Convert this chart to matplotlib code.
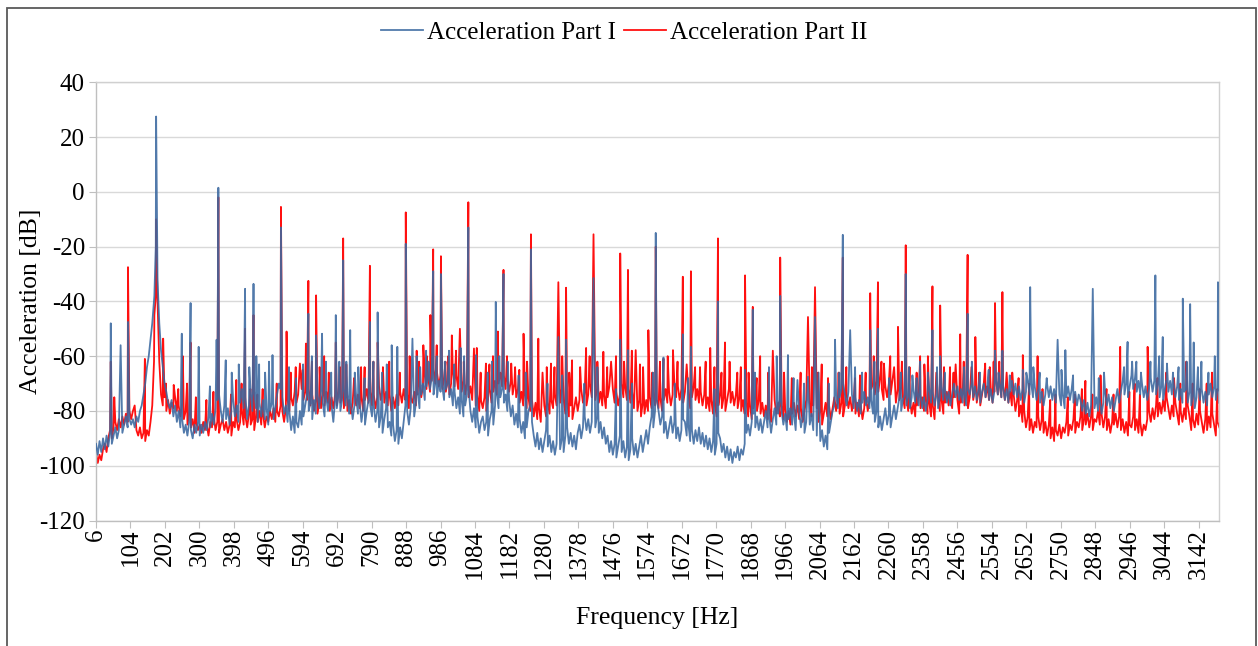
import numpy as np
import matplotlib
matplotlib.use("Agg")
import matplotlib.pyplot as plt
from matplotlib.patches import Rectangle

# ---------------- data ----------------
# background spectrum: one row per 100 Hz band, a value every 5 Hz, row k starts at 6 + 100*k Hz
row_start = 6
row_width = 100
sample_step = 5

blue_base_rows = [
    [-92, -96, -91, -95, -90, -94, -89, -93, -88, -92, -89, -86, -90, -87, -84, -88, -85, -82, -86, -83],
    [-85, -83, -86, -82, -84, -80, -78, -74, -70, -64, -60, -54, -48, -40, -20, -32, -48, -58, -64, -70],
    [-73, -77, -79, -76, -82, -78, -84, -80, -86, -83, -88, -85, -89, -84, -87, -90, -85, -88, -84, -89],
    [-85, -88, -84, -87, -82, -86, -81, -85, -79, -76, -74, -80, -84, -78, -83, -79, -85, -80, -76, -82],
    [-78, -84, -77, -72, -79, -75, -83, -78, -74, -80, -73, -79, -84, -77, -82, -76, -83, -79, -85, -80],
    [-77, -83, -79, -74, -70, -72, -75, -81, -78, -84, -80, -87, -82, -88, -84, -86, -80, -85, -82, -78],
    [-74, -80, -77, -83, -76, -81, -74, -79, -72, -77, -82, -75, -80, -73, -78, -84, -76, -79, -74, -80],
    [-76, -72, -78, -74, -81, -77, -83, -78, -75, -81, -77, -84, -79, -85, -80, -76, -78, -82, -78, -84],
    [-80, -86, -82, -88, -83, -79, -86, -84, -89, -85, -91, -87, -92, -86, -90, -84, -78, -80, -85, -79],
    [-76, -82, -77, -73, -79, -74, -70, -76, -71, -67, -72, -68, -74, -70, -75, -69, -73, -71, -76, -72],
    [-70, -75, -72, -78, -73, -79, -75, -81, -76, -82, -78, -74, -72, -80, -84, -79, -86, -82, -88, -84],
    [-82, -87, -84, -89, -83, -80, -85, -78, -74, -79, -75, -72, -77, -74, -80, -76, -82, -78, -85, -81],
    [-86, -83, -88, -84, -90, -86, -80, -78, -84, -89, -93, -88, -94, -90, -95, -91, -87, -93, -89, -95],
    [-91, -96, -92, -88, -94, -90, -95, -89, -86, -92, -88, -93, -89, -94, -88, -85, -90, -86, -82, -87],
    [-83, -88, -84, -80, -86, -82, -88, -84, -90, -86, -92, -89, -95, -91, -96, -92, -97, -93, -89, -95],
    [-91, -97, -93, -98, -94, -90, -96, -92, -97, -93, -89, -95, -91, -87, -92, -86, -82, -86, -80, -76],
    [-80, -85, -82, -88, -84, -90, -86, -82, -88, -84, -90, -86, -91, -87, -83, -84, -89, -85, -91, -87],
    [-92, -87, -91, -86, -92, -88, -93, -89, -94, -90, -95, -91, -96, -92, -88, -90, -95, -92, -97, -93],
    [-98, -94, -99, -95, -97, -93, -98, -94, -96, -92, -88, -85, -89, -84, -81, -86, -82, -87, -83, -88],
    [-84, -80, -86, -82, -88, -83, -79, -85, -81, -76, -80, -85, -81, -87, -83, -79, -85, -81, -87, -83],
    [-80, -86, -82, -88, -84, -79, -85, -81, -87, -83, -89, -85, -91, -87, -93, -89, -94, -88, -84, -80],
    [-78, -74, -79, -75, -72, -70, -74, -78, -73, -77, -74, -79, -75, -80, -76, -81, -77, -73, -78, -75],
    [-79, -76, -81, -84, -80, -86, -82, -87, -83, -79, -85, -81, -86, -82, -78, -83, -79, -75, -80, -76],
    [-74, -78, -74, -79, -75, -72, -77, -73, -78, -74, -79, -75, -80, -76, -72, -77, -73, -78, -74, -79],
    [-75, -71, -76, -72, -77, -73, -78, -74, -70, -75, -71, -76, -72, -77, -73, -78, -72, -74, -70, -75],
    [-71, -76, -72, -77, -73, -70, -75, -71, -76, -72, -77, -73, -69, -74, -70, -75, -71, -76, -72, -77],
    [-73, -69, -74, -70, -75, -71, -76, -72, -77, -73, -69, -74, -70, -75, -71, -76, -72, -77, -73, -78],
    [-74, -70, -75, -71, -76, -72, -77, -73, -74, -78, -74, -79, -75, -71, -76, -72, -77, -73, -78, -74],
    [-76, -80, -76, -81, -77, -82, -78, -76, -79, -75, -80, -76, -81, -77, -73, -78, -74, -79, -75, -80],
    [-76, -72, -77, -73, -69, -74, -70, -75, -71, -67, -72, -68, -73, -69, -74, -70, -75, -71, -76, -72],
    [-68, -73, -69, -74, -70, -75, -71, -76, -72, -68, -73, -69, -74, -70, -75, -71, -76, -72, -77, -73],
    [-72, -77, -73, -78, -74, -79, -75, -71, -76, -72, -77, -73, -78, -74, -70, -75, -71, -76, -72, -77],
]

red_base_rows = [
    [-95, -99, -96, -98, -94, -92, -95, -90, -87, -90, -86, -84, -87, -83, -86, -82, -85, -81, -84, -80],
    [-83, -80, -84, -87, -89, -86, -90, -88, -91, -87, -89, -84, -78, -62, -38, -40, -62, -74, -78, -75],
    [-80, -76, -81, -77, -79, -75, -80, -78, -82, -77, -83, -80, -85, -81, -86, -83, -88, -84, -87, -85],
    [-88, -84, -87, -85, -89, -84, -86, -82, -87, -84, -88, -85, -83, -87, -84, -88, -85, -89, -84, -86],
    [-83, -87, -84, -80, -85, -82, -86, -81, -85, -83, -87, -82, -84, -80, -85, -81, -86, -82, -84, -80],
    [-83, -79, -84, -80, -82, -78, -80, -84, -79, -76, -80, -75, -78, -73, -77, -74, -79, -72, -76, -73],
    [-76, -72, -78, -74, -80, -76, -81, -77, -79, -74, -78, -73, -77, -80, -75, -79, -74, -78, -73, -77],
    [-75, -79, -74, -80, -76, -81, -77, -73, -78, -74, -79, -75, -80, -76, -72, -77, -73, -78, -74, -79],
    [-75, -71, -76, -72, -77, -73, -78, -74, -80, -75, -79, -74, -78, -73, -77, -72, -76, -74, -79, -75],
    [-77, -73, -78, -74, -70, -75, -71, -67, -72, -68, -73, -69, -65, -70, -66, -71, -67, -72, -68, -73],
    [-69, -74, -70, -66, -71, -67, -72, -68, -73, -69, -74, -70, -75, -71, -76, -72, -78, -74, -80, -76],
    [-79, -75, -80, -76, -72, -77, -73, -69, -74, -70, -66, -71, -67, -72, -68, -73, -69, -74, -70, -75],
    [-72, -77, -73, -78, -74, -79, -75, -80, -76, -82, -77, -83, -79, -84, -80, -78, -82, -77, -81, -76],
    [-79, -74, -78, -73, -77, -72, -76, -81, -77, -82, -78, -83, -79, -75, -80, -76, -72, -77, -73, -78],
    [-74, -70, -75, -71, -76, -72, -77, -73, -78, -74, -79, -75, -71, -76, -72, -77, -73, -78, -74, -70],
    [-75, -71, -76, -72, -77, -73, -79, -75, -80, -76, -82, -77, -81, -76, -80, -75, -79, -74, -78, -76],
    [-79, -75, -80, -76, -72, -77, -73, -78, -74, -70, -75, -71, -76, -72, -77, -73, -78, -74, -79, -75],
    [-71, -76, -72, -77, -73, -78, -74, -79, -75, -80, -76, -81, -77, -82, -78, -74, -79, -75, -80, -76],
    [-72, -77, -73, -78, -74, -79, -75, -80, -76, -81, -77, -82, -78, -83, -79, -75, -80, -76, -81, -77],
    [-82, -78, -83, -79, -84, -80, -76, -81, -77, -82, -78, -83, -79, -84, -80, -85, -81, -77, -82, -78],
    [-83, -79, -84, -80, -76, -81, -77, -82, -78, -83, -79, -84, -80, -85, -81, -77, -82, -78, -83, -79],
    [-75, -80, -76, -81, -77, -82, -78, -74, -79, -75, -80, -76, -81, -77, -82, -78, -83, -79, -75, -80],
    [-76, -72, -70, -74, -69, -73, -68, -72, -76, -71, -75, -70, -74, -69, -73, -77, -72, -76, -71, -75],
    [-79, -75, -80, -76, -81, -77, -82, -78, -74, -79, -75, -80, -76, -81, -77, -82, -78, -83, -79, -75],
    [-80, -76, -81, -77, -73, -78, -74, -79, -75, -80, -76, -81, -77, -73, -78, -74, -79, -75, -80, -76],
    [-72, -77, -73, -78, -74, -70, -75, -71, -76, -72, -77, -73, -69, -74, -70, -75, -71, -76, -72, -77],
    [-73, -78, -74, -80, -76, -82, -78, -84, -80, -86, -82, -87, -83, -88, -84, -86, -82, -87, -83, -88],
    [-84, -89, -85, -90, -86, -91, -87, -89, -85, -90, -86, -88, -84, -89, -85, -87, -83, -88, -84, -86],
    [-82, -87, -83, -85, -81, -86, -82, -87, -83, -84, -80, -85, -81, -86, -82, -87, -83, -88, -84, -85],
    [-81, -86, -82, -87, -83, -88, -84, -89, -85, -86, -82, -87, -83, -88, -84, -89, -85, -87, -83, -80],
    [-84, -79, -83, -78, -82, -77, -81, -76, -80, -75, -79, -83, -78, -82, -77, -81, -85, -80, -84, -79],
    [-83, -78, -82, -87, -83, -86, -81, -85, -80, -84, -88, -83, -87, -82, -86, -81, -85, -89, -84, -86],
]

# main spectral peaks of Part I (Hz, dB)
blue_peak_freq = [48, 76, 97, 172, 177, 250, 275, 298, 330, 349, 354,
                  375, 430, 454, 470, 508, 532, 555, 610, 632, 649, 688, 709, 729,
                  785, 807, 847, 863, 887, 906, 965, 987, 1043, 1065, 1087, 1143,
                  1165, 1243, 1321, 1343, 1421, 1497, 1519, 1598, 1620, 1675, 1698,
                  1775, 1852, 1874, 1952, 1974, 2001, 2031, 2051, 2108, 2130, 2151,
                  2208, 2230, 2309, 2328, 2350, 2385, 2407, 2485, 2563, 2584, 2663,
                  2741, 2763, 2841, 2940, 2953, 3019, 3040, 3052, 3069, 3097, 3118,
                  3128, 3197]
blue_peak_db = [-48, -56, -47.5, -38, 27.5, -51.8, -40.6, -56.6, -71, -54, 1.5,
                -61.5, -35.4, -33.6, -63, -59.6, -13, -64, -44.5, -52.4, -51.8, -45, -25, -50.5,
                -47.5, -44, -56, -56.6, -19, -53.6, -29, -30, -57, -13, -59.6, -40.2,
                -30, -21, -53, -54, -31.5, -54, -57.8, -15, -60.5, -52, -56.6,
                -40, -65, -43, -38, -59.6, -68.7, -67.5, -45.7, -54, -15.7, -50.5,
                -50.5, -50, -30, -67, -62, -50.5, -60, -44.5, -58, -58, -34.8,
                -54, -57.8, -35.4, -54.8, -62, -30.5, -53, -62.7, -66, -39, -41,
                -55, -33]

# small spikes of Part I (Hz, dB)
blue_minor_freq = [392, 412, 442, 462, 487, 498, 575, 595, 620, 660, 675, 698, 718, 742,
                   752, 770, 795, 820, 833, 918, 928, 945, 952, 975, 998, 1010, 1025,
                   1053, 1120, 1132, 1153, 1177, 1208, 1228, 1290, 1332, 1395, 1432,
                   1485, 1530, 1590, 1652, 1690, 1765, 1880, 1920, 1942, 1990, 2020,
                   2061, 2090, 2120, 2165, 2185, 2220, 2262, 2295, 2318, 2340, 2372,
                   2398, 2420, 2475, 2497, 2520, 2545, 2573, 2605, 2642, 2652, 2672,
                   2690, 2710, 2752, 2785, 2858, 2873, 2930, 2965, 2978, 3005, 3030,
                   3085, 3108, 3140, 3150, 3170, 3188]
blue_minor_db = [-66, -63, -64, -60, -66, -62, -68, -63, -60, -62, -66, -62, -62, -66,
                 -64, -68, -62, -66, -63, -60, -64, -58, -62, -60, -62, -58, -63,
                 -60, -66, -62, -60, -62, -67, -66, -70, -67, -70, -64,
                 -72, -70, -66, -70, -68, -72, -66, -64, -60, -68, -70,
                 -66, -70, -66, -64, -66, -62, -68, -66, -64, -68, -66,
                 -64, -66, -64, -62, -66, -65, -66, -67, -65, -66, -64,
                 -66, -68, -65, -67, -68, -66, -64, -62, -66, -62, -60,
                 -64, -62, -64, -62, -66, -60]

# main spectral peaks of Part II (Hz, dB)
red_peak_freq = [48, 97, 145, 172, 177, 197, 227, 253, 275, 354, 405, 430, 454,
                 532, 548, 586, 603, 610, 632, 688, 709, 760, 785, 807, 887, 937, 957,
                 965, 987, 1018, 1041, 1065, 1081, 1089, 1115, 1149, 1165, 1187, 1222,
                 1243, 1264, 1300, 1321, 1343, 1360, 1400, 1421, 1449, 1471, 1497, 1519,
                 1541, 1577, 1598, 1620, 1647, 1675, 1698, 1724, 1753, 1775, 1795, 1852,
                 1874, 1895, 1931, 1952, 2031, 2051, 2070, 2130, 2179, 2208, 2230, 2247,
                 2287, 2309, 2350, 2385, 2407, 2435, 2451, 2464, 2485, 2507, 2535, 2559,
                 2563, 2584, 2642, 2684, 2820, 2863, 2919, 2997, 3107, 3180]
red_peak_db = [-62, -27.5, -61, -45, -10, -53.6, -70.5, -60, -55, -2, -68.7, -50, -45,
               -5.5, -51, -62.7, -55.4, -32.5, -37.8, -55, -17, -64, -27, -55, -7.5, -56, -45,
               -21, -23.5, -52.4, -50, -3.8, -57.2, -57, -62.7, -51, -28.5, -62.7, -51.8,
               -15.5, -53.6, -62.7, -33, -35, -61.5, -57, -15.5, -58.4, -62, -22.5, -28.5,
               -57.8, -50.5, -20, -61, -57.8, -31, -29, -64, -57, -17, -55, -30.5,
               -42, -60, -58, -24, -45.7, -34.8, -63, -24, -67, -37, -33, -62.7,
               -49.3, -19.5, -60, -34.5, -41.5, -64, -63, -52, -23, -53, -62.7, -62,
               -40.6, -36.6, -59.6, -60, -69, -67, -56.6, -56.6, -62, -66]

# small spikes of Part II (Hz, dB)
red_minor_freq = [58, 116, 205, 240, 265, 290, 320, 340, 390, 420, 445, 465, 480, 520,
                  560, 574, 594, 620, 642, 655, 668, 700, 718, 740, 770, 795, 822, 840,
                  870, 898, 918, 925, 947, 975, 1000, 1008, 1030, 1052, 1100, 1125,
                  1135, 1175, 1198, 1210, 1232, 1276, 1288, 1310, 1332, 1352, 1383,
                  1410, 1432, 1460, 1485, 1508, 1530, 1553, 1562, 1588, 1610, 1632,
                  1660, 1686, 1710, 1740, 1765, 1785, 1808, 1830, 1840, 1862, 1885,
                  1918, 1963, 1985, 2010, 2042, 2060, 2088, 2118, 2140, 2165, 2195,
                  2218, 2240, 2265, 2276, 2298, 2320, 2340, 2362, 2372, 2396, 2418,
                  2445, 2474, 2496, 2518, 2548, 2575, 2596, 2612, 2630, 2660, 2698,
                  2720, 2735, 2770, 2790, 2810, 2840, 2880, 2900, 2945, 2960, 2975,
                  3025, 3050, 3072, 3090, 3125, 3145, 3165, 3195]
red_minor_db = [-75, -78, -70, -72, -70, -75, -76, -73, -74, -70, -72, -74, -72, -70,
                -66, -64, -65, -62, -64, -60, -66, -64, -63, -68, -64, -62, -64, -62,
                -66, -60, -58, -62, -60, -56, -62, -60, -58, -62, -66, -63,
                -60, -60, -64, -65, -62, -66, -64, -64, -60, -66, -64,
                -60, -62, -64, -60, -62, -58, -63, -64, -66, -62, -60,
                -62, -63, -64, -62, -64, -66, -62, -66, -64, -66, -68,
                -66, -66, -68, -66, -64, -66, -68, -66, -64, -68, -66,
                -60, -62, -60, -64, -62, -64, -66, -63, -60, -66, -64,
                -66, -62, -64, -66, -64, -62, -66, -66, -68, -70, -72,
                -76, -74, -75, -74, -72, -74, -72, -74, -73, -70, -74,
                -68, -66, -68, -70, -70, -72, -70, -72]

x_tick_labels = [6, 104, 202, 300, 398, 496, 594, 692, 790, 888, 986, 1084, 1182,
                 1280, 1378, 1476, 1574, 1672, 1770, 1868, 1966, 2064, 2162, 2260,
                 2358, 2456, 2554, 2652, 2750, 2848, 2946, 3044, 3142]
y_ticks = [-120, -100, -80, -60, -40, -20, 0, 20, 40]

series_names = ["Acceleration Part I", "Acceleration Part II"]


def build(rows, minor_f, minor_v, pf, pd):
    d = {}
    for k, row in enumerate(rows):
        for j, v in enumerate(row):
            d[row_start + row_width * k + sample_step * j] = v
    d.update(zip(minor_f, minor_v))
    d.update(zip(pf, pd))
    f = sorted(d)
    return np.array(f, float), np.array([d[k] for k in f], float)


bf, bv = build(blue_base_rows, blue_minor_freq, blue_minor_db, blue_peak_freq, blue_peak_db)
rf, rv = build(red_base_rows, red_minor_freq, red_minor_db, red_peak_freq, red_peak_db)

# ---------------- figure ----------------
plt.rcParams["font.family"] = ["Liberation Serif", "DejaVu Serif"]
plt.rcParams["axes.unicode_minus"] = False
W, H = 1258, 646
fig = plt.figure(figsize=(W / 100, H / 100), dpi=100)
ax = fig.add_axes([96 / W, 1 - 520.5 / H, (1219 - 96) / W, (520.5 - 82.3) / H])

BLUE = "#3A68A0"
RED = "#FF1010"
ax.plot(rf, rv, color=RED, lw=1.3, zorder=2, label=series_names[1])
ax.plot(bf, bv, color=BLUE, lw=1.3, alpha=0.88, zorder=3, label=series_names[0])

ax.set_xlim(6, 3200)
ax.set_ylim(-120, 40)
ax.set_yticks(y_ticks)
ax.set_xticks(x_tick_labels)
ax.set_xticklabels([str(v) for v in x_tick_labels], rotation=90, fontsize=18)
ax.tick_params(axis="y", labelsize=18, length=5, color="#BFBFBF", pad=3)
ax.tick_params(axis="x", length=5, color="#BFBFBF", pad=1)
ax.grid(axis="y", color="#D9D9D9", lw=1.0, zorder=0)
for s in ax.spines.values():
    s.set_color("#D0D0D0")
    s.set_linewidth(1.0)
ax.spines["left"].set_color("#BFBFBF")
ax.spines["bottom"].set_color("#BFBFBF")

ax.set_ylabel("Acceleration [dB]", fontsize=18.5)
ax.yaxis.set_label_coords(-0.048, 0.5)
ax.set_xlabel("Frequency [Hz]", fontsize=18.5, labelpad=20)

h, l = ax.get_legend_handles_labels()
fig.legend(h[::-1], l[::-1], loc="center", bbox_to_anchor=(0.496, 0.949),
           ncol=2, frameon=False, fontsize=18, handlelength=1.7,
           columnspacing=0.3, handletextpad=0.15)

fig.patches.append(Rectangle((7 / W, -0.05), (1256 - 7) / W, 1.05 - 8 / H,
                             transform=fig.transFigure, fill=False,
                             edgecolor="#595959", lw=1.3))

fig.savefig("out.png", dpi=100)
